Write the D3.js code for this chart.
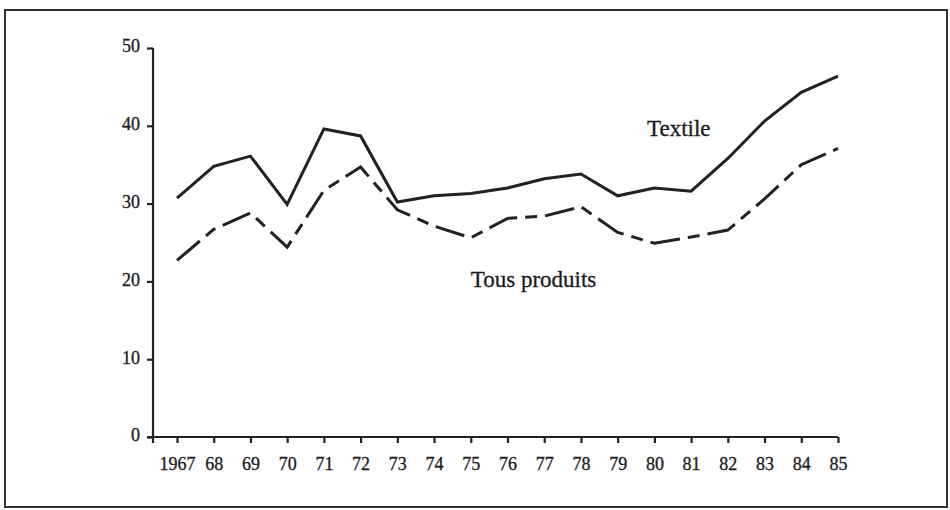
<!DOCTYPE html>
<html>
<head>
<meta charset="utf-8">
<script src="https://cdn.jsdelivr.net/npm/d3@7"></script>
<style>
  body { margin: 0; background: #fff; }
  svg { display: block; }
  .axis text { font-family: "Liberation Serif", "DejaVu Serif", serif; font-size: 18px; fill: #1a1a1a; stroke: #1a1a1a; stroke-width: 0.3px; }
  .axis line, .axis path { stroke: #222; stroke-width: 2.2px; }
  .label { font-family: "Liberation Serif", "DejaVu Serif", serif; font-size: 23px; fill: #1a1a1a; stroke: #1a1a1a; stroke-width: 0.3px; }
</style>
</head>
<body>
<div id="chart-area"></div>
<script>

// Data
var years = [1967, 1968, 1969, 1970, 1971, 1972, 1973, 1974, 1975, 1976,
             1977, 1978, 1979, 1980, 1981, 1982, 1983, 1984, 1985];
var yearLabels = ["1967", "68", "69", "70", "71", "72", "73", "74", "75", "76",
                  "77", "78", "79", "80", "81", "82", "83", "84", "85"];
var textile = [30.7, 34.8, 36.1, 29.9, 39.6, 38.7, 30.2, 31.0, 31.3, 32.0,
               33.2, 33.8, 31.0, 32.0, 31.6, 35.8, 40.6, 44.3, 46.4];
var tousProduits = [22.7, 26.7, 28.8, 24.4, 31.7, 34.7, 29.2, 27.1, 25.6, 28.1,
                    28.4, 29.6, 26.3, 24.9, 25.7, 26.6, 30.6, 35.0, 37.1];
var yTicks = [0, 10, 20, 30, 40, 50];

var width = 950, height = 510;

var svg = d3.select("#chart-area").append("svg")
    .attr("width", width)
    .attr("height", height);

// Frame round the figure
svg.append("rect")
    .attr("x", 5)
    .attr("y", 10)
    .attr("width", 942)
    .attr("height", 497)
    .attr("fill", "none")
    .attr("stroke", "#333")
    .attr("stroke-width", 2);

// Scales
var x = d3.scaleLinear().domain([1967, 1985]).range([177, 838]);
var y = d3.scaleLinear().domain([0, 50]).range([437, 48]);
var axisX = 153;

// Y axis
var yAxis = svg.append("g")
    .attr("class", "axis y")
    .attr("transform", "translate(" + axisX + ",0)")
    .call(d3.axisLeft(y).tickValues(yTicks).tickSize(6).tickSizeOuter(0).tickPadding(7));
yAxis.select(".domain").remove();
yAxis.selectAll("text").attr("dy", "0.22em");
yAxis.append("line")
    .attr("x1", 0).attr("x2", 0)
    .attr("y1", y(50)).attr("y2", y(0) + 6);

// X axis
var xAxis = svg.append("g")
    .attr("class", "axis x")
    .attr("transform", "translate(0," + y(0) + ")")
    .call(d3.axisBottom(x)
        .tickValues(years)
        .tickFormat(function(d, i){ return yearLabels[i]; })
        .tickSize(6).tickSizeOuter(0).tickPadding(14));
xAxis.select(".domain").remove();
xAxis.append("line")
    .attr("x1", axisX - 6).attr("x2", x(1985))
    .attr("y1", 0).attr("y2", 0);

// Lines
var line = d3.line()
    .x(function(d, i){ return x(years[i]); })
    .y(function(d){ return y(d); });

svg.append("path")
    .attr("d", line(textile))
    .attr("fill", "none")
    .attr("stroke", "#222")
    .attr("stroke-width", 3)
    .attr("stroke-linejoin", "miter");

svg.append("path")
    .attr("d", line(tousProduits))
    .attr("fill", "none")
    .attr("stroke", "#222")
    .attr("stroke-width", 3)
    .attr("stroke-dasharray", "30,8,12,8");

// Series labels
svg.append("text")
    .attr("class", "label")
    .attr("x", x(1979.8))
    .attr("y", y(38.7))
    .text("Textile");

svg.append("text")
    .attr("class", "label")
    .attr("x", x(1975.0))
    .attr("y", y(19.3))
    .text("Tous produits");

</script>
</body>
</html>
